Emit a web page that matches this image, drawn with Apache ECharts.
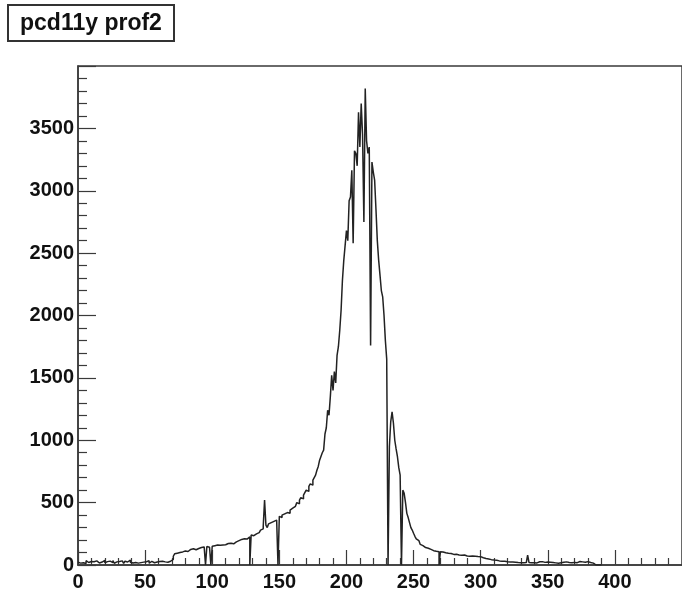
<!DOCTYPE html>
<html>
<head>
<meta charset="utf-8">
<title>pcd11y prof2</title>
<script src="https://cdn.jsdelivr.net/npm/echarts@6/dist/echarts.min.js"></script>
<style>
  html, body { margin: 0; padding: 0; background: #fff; }
  #chart { width: 682px; height: 592px; }
</style>
</head>
<body>
<div id="chart"></div>
<script>
// Histogram title
const histTitle = 'pcd11y prof2';

// Bin layout: unit-wide bins starting at 0
const binStart = 0;
const binWidth = 1;

// Bin contents, ten bins per row
const binCounts = [
  22, 15, 30, 18, 25, 12, 35, 20, 17, 28,
  14, 26, 19, 33, 21, 16, 29, 24, 12, 38,
  18, 27, 15, 31, 22, 19, 36, 14, 25, 20,
  28, 17, 33, 21, 13, 30, 24, 18, 40, 22,
  16, 27, 20, 34, 15, 25, 19, 31, 23, 17,
  26, 21, 35, 14, 29, 22, 18, 32, 24, 19,
  28, 23, 30, 20, 25, 18, 22, 27, 30, 35,
  45, 70, 90, 95, 88, 100, 110, 105, 98, 112,
  115, 108, 120, 125, 118, 130, 128, 122, 135, 132,
  138, 140, 128, 145, 150, 0, 148, 142, 152, 0,
  150, 155, 148, 160, 152, 158, 165, 160, 155, 162,
  168, 172, 165, 175, 180, 170, 178, 185, 190, 195,
  200, 205, 198, 210, 215, 208, 220, 225, 0, 240,
  235, 245, 250, 255, 260, 270, 280, 290, 310, 521,
  320, 300, 330, 340, 335, 350, 345, 360, 375, 0,
  390, 380, 400, 410, 395, 420, 430, 415, 440, 455,
  450, 470, 480, 500, 490, 520, 540, 530, 560, 580,
  600, 590, 630, 650, 640, 680, 700, 720, 760, 790,
  840, 870, 900, 921, 1050, 1100, 1240, 1200, 1350, 1520,
  1400, 1550, 1460, 1680, 1750, 1880, 2040, 2280, 2440, 2560,
  2680, 2600, 2920, 2950, 3165, 2580, 3320, 3300, 3200, 3630,
  3350, 3700, 3450, 2750, 3820, 3400, 3300, 3350, 1760, 3230,
  3150, 3085, 2850, 2600, 2444, 2324, 2200, 2150, 2000, 1800,
  1650, 0, 950, 1150, 1228, 1137, 1000, 930, 868, 780,
  721, 0, 600, 574, 500, 414, 380, 340, 300, 280,
  254, 230, 210, 195, 180, 165, 155, 148, 140, 134,
  134, 128, 125, 118, 115, 112, 110, 108, 107, 0,
  107, 104, 100, 98, 96, 94, 90, 92, 88, 85,
  94, 86, 84, 80, 82, 78, 76, 80, 74, 72,
  80, 70, 68, 72, 66, 70, 64, 68, 62, 67,
  60, 58, 55, 52, 50, 48, 45, 43, 42, 40,
  40, 38, 35, 33, 32, 30, 28, 30, 27, 26,
  27, 25, 28, 24, 26, 22, 25, 20, 23, 19,
  22, 18, 25, 20, 24, 80, 21, 19, 23, 18,
  20, 17, 22, 26, 18, 27, 16, 21, 19, 24,
  18, 22, 15, 20, 19, 17, 23, 14, 21, 18,
  16, 22, 19, 25, 17, 20, 26, 18, 24, 21,
  27, 19, 23, 28, 20, 25, 29, 22, 26, 27,
  24, 20, 18, 15, 10, 0, 0, 0, 0, 0
];

// Axis ranges and major tick spacing
const xRange = [0, 450];
const xMajor = 50;
const yRange = [0, 4000];
const yMajor = 500;

// Step outline: each bin's left edge carries its content, plus the closing edge
const stepPoints = binCounts.map((v, i) => [binStart + i * binWidth, v]);
stepPoints.push([binStart + binCounts.length * binWidth, binCounts[binCounts.length - 1]]);

const font = 'Liberation Sans, Arial, Helvetica, sans-serif';
const axisColor = '#3a3a3a';
const plainNumber = v => String(v);

const chart = echarts.init(document.getElementById('chart'), null, { renderer: 'canvas' });

chart.setOption({
  backgroundColor: '#ffffff',
  animation: false,
  title: {
    text: histTitle,
    left: 8,
    top: 5,
    padding: [7, 12, 6, 12],
    borderColor: '#333',
    borderWidth: 2,
    backgroundColor: '#fff',
    textStyle: {
      fontFamily: font,
      fontSize: 23,
      fontWeight: 'bold',
      color: '#111'
    }
  },
  grid: {
    left: 78,
    top: 66,
    width: 615,
    height: 499,
    show: true,
    borderColor: axisColor,
    borderWidth: 1.5,
    backgroundColor: 'transparent',
    containLabel: false
  },
  xAxis: {
    type: 'value',
    min: xRange[0],
    max: xRange[1],
    interval: xMajor,
    axisLine: { show: true, onZero: false, lineStyle: { color: axisColor, width: 1.5 } },
    axisTick: { show: true, inside: true, length: 15, lineStyle: { color: axisColor, width: 1.2 } },
    minorTick: { show: true, splitNumber: 5, length: 7, lineStyle: { color: axisColor, width: 1.2 } },
    splitLine: { show: false },
    axisLabel: {
      showMaxLabel: false,
      formatter: plainNumber,
      margin: 7,
      fontFamily: font,
      fontSize: 20,
      fontWeight: 'bold',
      color: '#111'
    }
  },
  yAxis: {
    type: 'value',
    min: yRange[0],
    max: yRange[1],
    interval: yMajor,
    axisLine: { show: true, lineStyle: { color: axisColor, width: 1.5 } },
    axisTick: { show: true, inside: true, length: 18, lineStyle: { color: axisColor, width: 1.2 } },
    minorTick: { show: true, splitNumber: 5, length: 9, lineStyle: { color: axisColor, width: 1.2 } },
    splitLine: { show: false },
    axisLabel: {
      showMaxLabel: false,
      formatter: plainNumber,
      margin: 4,
      fontFamily: font,
      fontSize: 20,
      fontWeight: 'bold',
      color: '#111'
    }
  },
  series: [{
    type: 'line',
    step: 'end',
    data: stepPoints,
    showSymbol: false,
    symbol: 'none',
    clip: true,
    lineStyle: { color: '#222', width: 1.5 }
  }]
});
</script>
</body>
</html>
